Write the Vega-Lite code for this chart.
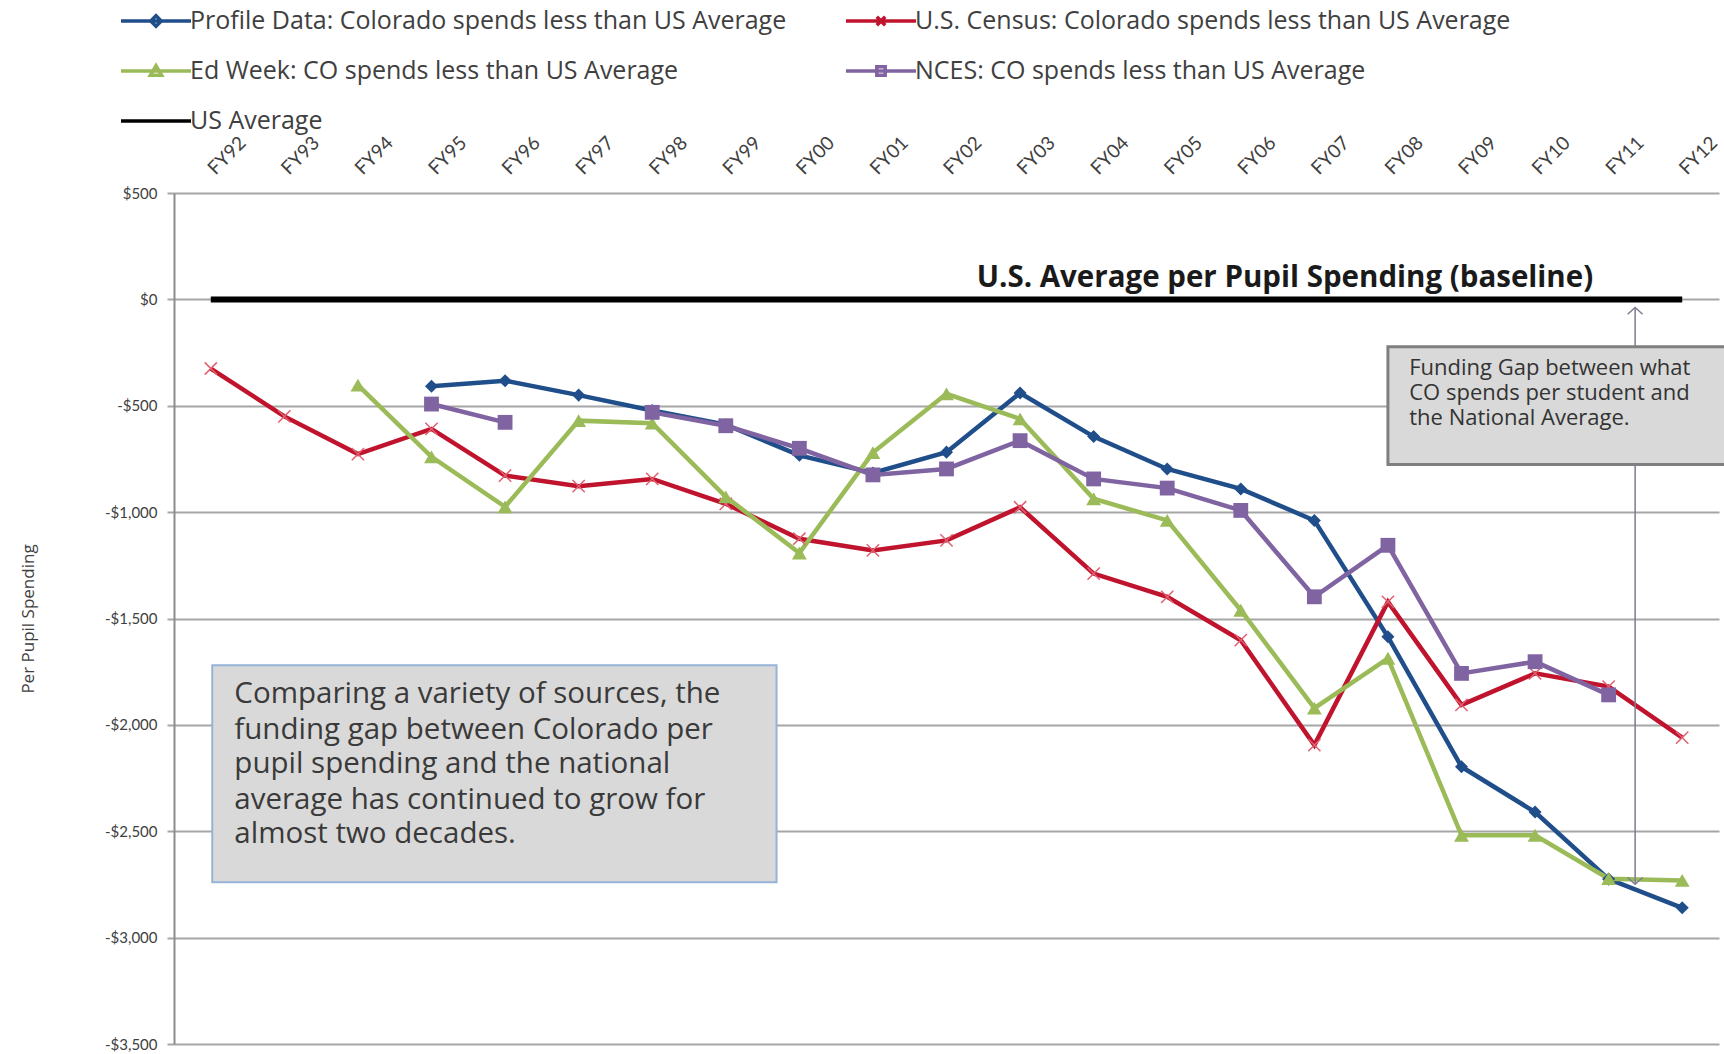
{
  "$schema": "https://vega.github.io/schema/vega-lite/v6.json",
  "width": 1545,
  "height": 851,
  "autosize": "none",
  "padding": {"left": 174, "top": 193, "right": 5, "bottom": 10},
  "background": "white",
  "config": {"view": {"stroke": null}},
  "datasets": {
    "spending": [
      {"series": "Profile Data: Colorado spends less than US Average", "year": 1995, "value": -408},
      {"series": "Profile Data: Colorado spends less than US Average", "year": 1996, "value": -382},
      {"series": "Profile Data: Colorado spends less than US Average", "year": 1997, "value": -450},
      {"series": "Profile Data: Colorado spends less than US Average", "year": 1998, "value": -522},
      {"series": "Profile Data: Colorado spends less than US Average", "year": 1999, "value": -589},
      {"series": "Profile Data: Colorado spends less than US Average", "year": 2000, "value": -733},
      {"series": "Profile Data: Colorado spends less than US Average", "year": 2001, "value": -816},
      {"series": "Profile Data: Colorado spends less than US Average", "year": 2002, "value": -718},
      {"series": "Profile Data: Colorado spends less than US Average", "year": 2003, "value": -440},
      {"series": "Profile Data: Colorado spends less than US Average", "year": 2004, "value": -645},
      {"series": "Profile Data: Colorado spends less than US Average", "year": 2005, "value": -797},
      {"series": "Profile Data: Colorado spends less than US Average", "year": 2006, "value": -891},
      {"series": "Profile Data: Colorado spends less than US Average", "year": 2007, "value": -1039},
      {"series": "Profile Data: Colorado spends less than US Average", "year": 2008, "value": -1586},
      {"series": "Profile Data: Colorado spends less than US Average", "year": 2009, "value": -2197},
      {"series": "Profile Data: Colorado spends less than US Average", "year": 2010, "value": -2410},
      {"series": "Profile Data: Colorado spends less than US Average", "year": 2011, "value": -2725},
      {"series": "Profile Data: Colorado spends less than US Average", "year": 2012, "value": -2860},
      {"series": "U.S. Census: Colorado spends less than US Average", "year": 1992, "value": -325},
      {"series": "U.S. Census: Colorado spends less than US Average", "year": 1993, "value": -550},
      {"series": "U.S. Census: Colorado spends less than US Average", "year": 1994, "value": -727},
      {"series": "U.S. Census: Colorado spends less than US Average", "year": 1995, "value": -609},
      {"series": "U.S. Census: Colorado spends less than US Average", "year": 1996, "value": -828},
      {"series": "U.S. Census: Colorado spends less than US Average", "year": 1997, "value": -878},
      {"series": "U.S. Census: Colorado spends less than US Average", "year": 1998, "value": -844},
      {"series": "U.S. Census: Colorado spends less than US Average", "year": 1999, "value": -961},
      {"series": "U.S. Census: Colorado spends less than US Average", "year": 2000, "value": -1125},
      {"series": "U.S. Census: Colorado spends less than US Average", "year": 2001, "value": -1180},
      {"series": "U.S. Census: Colorado spends less than US Average", "year": 2002, "value": -1133},
      {"series": "U.S. Census: Colorado spends less than US Average", "year": 2003, "value": -977},
      {"series": "U.S. Census: Colorado spends less than US Average", "year": 2004, "value": -1289},
      {"series": "U.S. Census: Colorado spends less than US Average", "year": 2005, "value": -1398},
      {"series": "U.S. Census: Colorado spends less than US Average", "year": 2006, "value": -1602},
      {"series": "U.S. Census: Colorado spends less than US Average", "year": 2007, "value": -2095},
      {"series": "U.S. Census: Colorado spends less than US Average", "year": 2008, "value": -1422},
      {"series": "U.S. Census: Colorado spends less than US Average", "year": 2009, "value": -1906},
      {"series": "U.S. Census: Colorado spends less than US Average", "year": 2010, "value": -1758},
      {"series": "U.S. Census: Colorado spends less than US Average", "year": 2011, "value": -1820},
      {"series": "U.S. Census: Colorado spends less than US Average", "year": 2012, "value": -2060},
      {"series": "Ed Week: CO spends less than US Average", "year": 1994, "value": -403},
      {"series": "Ed Week: CO spends less than US Average", "year": 1995, "value": -740},
      {"series": "Ed Week: CO spends less than US Average", "year": 1996, "value": -975},
      {"series": "Ed Week: CO spends less than US Average", "year": 1997, "value": -570},
      {"series": "Ed Week: CO spends less than US Average", "year": 1998, "value": -582},
      {"series": "Ed Week: CO spends less than US Average", "year": 1999, "value": -928},
      {"series": "Ed Week: CO spends less than US Average", "year": 2000, "value": -1192},
      {"series": "Ed Week: CO spends less than US Average", "year": 2001, "value": -720},
      {"series": "Ed Week: CO spends less than US Average", "year": 2002, "value": -444},
      {"series": "Ed Week: CO spends less than US Average", "year": 2003, "value": -562},
      {"series": "Ed Week: CO spends less than US Average", "year": 2004, "value": -937},
      {"series": "Ed Week: CO spends less than US Average", "year": 2005, "value": -1039},
      {"series": "Ed Week: CO spends less than US Average", "year": 2006, "value": -1461},
      {"series": "Ed Week: CO spends less than US Average", "year": 2007, "value": -1921},
      {"series": "Ed Week: CO spends less than US Average", "year": 2008, "value": -1687},
      {"series": "Ed Week: CO spends less than US Average", "year": 2009, "value": -2519},
      {"series": "Ed Week: CO spends less than US Average", "year": 2010, "value": -2519},
      {"series": "Ed Week: CO spends less than US Average", "year": 2011, "value": -2723},
      {"series": "Ed Week: CO spends less than US Average", "year": 2012, "value": -2731},
      {"series": "NCES: CO spends less than US Average", "year": 1995, "value": -492},
      {"series": "NCES: CO spends less than US Average", "year": 1996, "value": -578},
      {"series": "NCES: CO spends less than US Average", "year": 1997, "value": null},
      {"series": "NCES: CO spends less than US Average", "year": 1998, "value": -531},
      {"series": "NCES: CO spends less than US Average", "year": 1999, "value": -594},
      {"series": "NCES: CO spends less than US Average", "year": 2000, "value": -700},
      {"series": "NCES: CO spends less than US Average", "year": 2001, "value": -825},
      {"series": "NCES: CO spends less than US Average", "year": 2002, "value": -797},
      {"series": "NCES: CO spends less than US Average", "year": 2003, "value": -664},
      {"series": "NCES: CO spends less than US Average", "year": 2004, "value": -844},
      {"series": "NCES: CO spends less than US Average", "year": 2005, "value": -887},
      {"series": "NCES: CO spends less than US Average", "year": 2006, "value": -992},
      {"series": "NCES: CO spends less than US Average", "year": 2007, "value": -1398},
      {"series": "NCES: CO spends less than US Average", "year": 2008, "value": -1156},
      {"series": "NCES: CO spends less than US Average", "year": 2009, "value": -1758},
      {"series": "NCES: CO spends less than US Average", "year": 2010, "value": -1703},
      {"series": "NCES: CO spends less than US Average", "year": 2011, "value": -1859},
      {"series": "US Average", "year": 1992, "value": 0},
      {"series": "US Average", "year": 1993, "value": 0},
      {"series": "US Average", "year": 1994, "value": 0},
      {"series": "US Average", "year": 1995, "value": 0},
      {"series": "US Average", "year": 1996, "value": 0},
      {"series": "US Average", "year": 1997, "value": 0},
      {"series": "US Average", "year": 1998, "value": 0},
      {"series": "US Average", "year": 1999, "value": 0},
      {"series": "US Average", "year": 2000, "value": 0},
      {"series": "US Average", "year": 2001, "value": 0},
      {"series": "US Average", "year": 2002, "value": 0},
      {"series": "US Average", "year": 2003, "value": 0},
      {"series": "US Average", "year": 2004, "value": 0},
      {"series": "US Average", "year": 2005, "value": 0},
      {"series": "US Average", "year": 2006, "value": 0},
      {"series": "US Average", "year": 2007, "value": 0},
      {"series": "US Average", "year": 2008, "value": 0},
      {"series": "US Average", "year": 2009, "value": 0},
      {"series": "US Average", "year": 2010, "value": 0},
      {"series": "US Average", "year": 2011, "value": 0},
      {"series": "US Average", "year": 2012, "value": 0}
    ],
    "boxes": [
      {"name": "gap", "year": 2008.0, "year2": 2012.7, "value": -223, "value2": -776},
      {"name": "summary", "year": 1992.02, "year2": 1999.69, "value": -1720, "value2": -2740}
    ],
    "arrow": [
      {"end": "top", "year": 2011.36, "value": -38, "value2": -2749},
      {"end": "bottom", "year": 2011.36, "value": -2749, "value2": -38}
    ],
    "labels": [
      {"group": "baseline", "year": 2006.6, "value": 100, "text": "U.S. Average per Pupil Spending (baseline)"},
      {"group": "gap", "year": 2008.29, "value": -321, "text": "Funding Gap between what"},
      {"group": "gap", "year": 2008.29, "value": -440, "text": "CO spends per student and"},
      {"group": "gap", "year": 2008.29, "value": -559, "text": "the National Average."},
      {"group": "summary", "year": 1992.32, "value": -1857, "text": "Comparing a variety of sources, the"},
      {"group": "summary", "year": 1992.32, "value": -2022, "text": "funding gap between Colorado per"},
      {"group": "summary", "year": 1992.32, "value": -2186, "text": "pupil spending and the national"},
      {"group": "summary", "year": 1992.32, "value": -2351, "text": "average has continued to grow for"},
      {"group": "summary", "year": 1992.32, "value": -2515, "text": "almost two decades."}
    ]
  },
  "encoding": {
    "x": {
      "field": "year", "type": "quantitative",
      "scale": {"domain": [1991.5, 2012.5], "nice": false, "zero": false},
      "axis": {
        "orient": "top", "title": null,
        "values": [1992, 1993, 1994, 1995, 1996, 1997, 1998, 1999, 2000, 2001, 2002, 2003, 2004, 2005, 2006, 2007, 2008, 2009, 2010, 2011, 2012],
        "labelExpr": "'FY' + slice(toString(datum.value), 2)",
        "labelAngle": -45, "labelAlign": "left", "labelBaseline": "middle",
        "labelPadding": 22, "labelFont": "Lato", "labelFontSize": 19, "labelColor": "#404040",
        "labelOverlap": false, "labelBound": false, "labelFlush": false,
        "grid": false, "domain": false, "ticks": false
      }
    },
    "y": {
      "field": "value", "type": "quantitative",
      "scale": {"domain": [-3500, 500], "nice": false},
      "axis": {
        "title": "Per Pupil Spending",
        "values": [-3500, -3000, -2500, -2000, -1500, -1000, -500, 0, 500],
        "labelExpr": "(datum.value < 0 ? '-$' : '$') + format(abs(datum.value), ',')",
        "labelFont": "Lato", "labelFontSize": 15, "labelColor": "#404040", "labelPadding": 10,
        "grid": true, "gridColor": "#a6a6a6", "gridWidth": 2,
        "domain": true, "domainColor": "#8c8c8c", "domainWidth": 2,
        "ticks": true, "tickSize": 7, "tickColor": "#a6a6a6", "tickWidth": 2,
        "titleFont": "Open Sans", "titleFontSize": 17, "titleFontWeight": "normal", "titleColor": "#404040",
        "titleX": -137
      }
    }
  },
  "layer": [
    {
      "data": {"name": "spending"},
      "mark": {"type": "line", "invalid": "break-paths-filter-domains"},
      "encoding": {
        "color": {
          "field": "series", "type": "nominal",
          "scale": {
            "domain": ["US Average", "NCES: CO spends less than US Average", "Ed Week: CO spends less than US Average", "U.S. Census: Colorado spends less than US Average", "Profile Data: Colorado spends less than US Average"],
            "range": ["#000000", "#8064a2", "#9bbb59", "#c0142e", "#1f4e8a"]
          },
          "legend": null
        },
        "strokeWidth": {"condition": {"test": "datum.series === 'US Average'", "value": 6}, "value": 4.5}
      }
    },
    {
      "data": {"name": "spending"},
      "transform": [{"filter": "datum.series === 'Profile Data: Colorado spends less than US Average'"}],
      "mark": {"type": "point", "shape": "diamond", "filled": true, "size": 170, "color": "#1f4e8a", "opacity": 1}
    },
    {
      "data": {"name": "spending"},
      "transform": [{"filter": "datum.series === 'U.S. Census: Colorado spends less than US Average'"}],
      "mark": {"type": "point", "shape": "M-1,-1L1,1M-1,1L1,-1", "filled": false, "size": 150, "stroke": "#e06070", "strokeWidth": 1.5, "opacity": 1}
    },
    {
      "data": {"name": "spending"},
      "transform": [{"filter": "datum.series === 'Ed Week: CO spends less than US Average'"}],
      "mark": {"type": "point", "shape": "triangle-up", "filled": true, "size": 220, "color": "#9bbb59", "opacity": 1}
    },
    {
      "data": {"name": "spending"},
      "transform": [{"filter": "datum.series === 'NCES: CO spends less than US Average' && isValid(datum.value)"}],
      "mark": {"type": "point", "shape": "square", "filled": true, "size": 220, "color": "#8064a2", "opacity": 1}
    },
    {
      "data": {"name": "arrow"},
      "transform": [{"filter": "datum.end === 'top'"}],
      "mark": {"type": "rule", "color": "#7c7c94", "strokeWidth": 1.5},
      "encoding": {"y2": {"field": "value2"}}
    },
    {
      "data": {"name": "boxes"},
      "transform": [{"filter": "datum.name === 'gap'"}],
      "mark": {"type": "rect", "fill": "#d9d9d9", "stroke": "#7f7f7f", "strokeWidth": 3},
      "encoding": {"x2": {"field": "year2"}, "y2": {"field": "value2"}}
    },
    {
      "data": {"name": "boxes"},
      "transform": [{"filter": "datum.name === 'summary'"}],
      "mark": {"type": "rect", "fill": "#d9d9d9", "stroke": "#95b3d7", "strokeWidth": 2},
      "encoding": {"x2": {"field": "year2"}, "y2": {"field": "value2"}}
    },
    {
      "data": {"name": "labels"},
      "transform": [{"filter": "datum.group === 'baseline'"}],
      "mark": {"type": "text", "font": "Open Sans", "fontWeight": "bold", "fontSize": 29.5, "color": "#1a1a1a", "align": "center", "baseline": "middle"},
      "encoding": {"text": {"field": "text"}}
    },
    {
      "data": {"name": "labels"},
      "transform": [{"filter": "datum.group === 'gap'"}],
      "mark": {"type": "text", "font": "Open Sans", "fontSize": 22, "color": "#333333", "align": "left", "baseline": "middle"},
      "encoding": {"text": {"field": "text"}}
    },
    {
      "data": {"name": "labels"},
      "transform": [{"filter": "datum.group === 'summary'"}],
      "mark": {"type": "text", "font": "Open Sans", "fontSize": 29.5, "color": "#3a3a3a", "align": "left", "baseline": "middle"},
      "encoding": {"text": {"field": "text"}}
    },
    {
      "data": {"name": "arrow"},
      "transform": [{"filter": "datum.end === 'top'"}],
      "mark": {"type": "point", "shape": "M-1,0.9L0,0L1,0.9", "filled": false, "size": 225, "stroke": "#7c7c94", "strokeWidth": 1.5, "opacity": 1}
    },
    {
      "data": {"name": "arrow"},
      "transform": [{"filter": "datum.end === 'bottom'"}],
      "mark": {"type": "point", "shape": "M-1,-0.9L0,0L1,-0.9", "filled": false, "size": 225, "stroke": "#7c7c94", "strokeWidth": 1.5, "opacity": 1}
    },
    {
      "data": {"name": "spending"},
      "mark": {"type": "point", "filled": false, "opacity": 0, "strokeWidth": 3.5, "size": 4900},
      "encoding": {
        "stroke": {
          "field": "series", "type": "nominal",
          "scale": {
            "domain": ["Profile Data: Colorado spends less than US Average", "U.S. Census: Colorado spends less than US Average", "Ed Week: CO spends less than US Average", "NCES: CO spends less than US Average", "US Average"],
            "range": ["#1f4e8a", "#c0142e", "#9bbb59", "#8064a2", "#000000"]
          },
          "legend": {"title": null, "orient": "none", "legendX": -55, "legendY": -209, "direction": "horizontal", "columns": 2, "columnPadding": 52, "rowPadding": -16, "labelFont": "Open Sans", "labelFontSize": 25, "labelColor": "#404040", "labelLimit": 900, "symbolSize": 4900, "symbolStrokeWidth": 3.5, "symbolOpacity": 1, "labelOffset": -3}
        },
        "shape": {
          "field": "series", "type": "nominal",
          "scale": {
            "domain": ["Profile Data: Colorado spends less than US Average", "U.S. Census: Colorado spends less than US Average", "Ed Week: CO spends less than US Average", "NCES: CO spends less than US Average", "US Average"],
            "range": ["M-1,0H1M0,-0.15L0.15,0L0,0.15L-0.15,0Z", "M-1,0H1M-0.12,-0.12L0.12,0.12M-0.12,0.12L0.12,-0.12", "M-1,0H1M0,-0.15L0.16,0.12L-0.16,0.12Z", "M-1,0H1M-0.12,-0.12H0.12V0.12H-0.12Z", "M-1,0H1"]
          },
          "legend": {"title": null, "orient": "none", "legendX": -55, "legendY": -209, "direction": "horizontal", "columns": 2, "columnPadding": 52, "rowPadding": -16, "labelFont": "Open Sans", "labelFontSize": 25, "labelColor": "#404040", "labelLimit": 900, "symbolSize": 4900, "symbolStrokeWidth": 3.5, "symbolOpacity": 1, "labelOffset": -3}
        }
      }
    }
  ]
}
